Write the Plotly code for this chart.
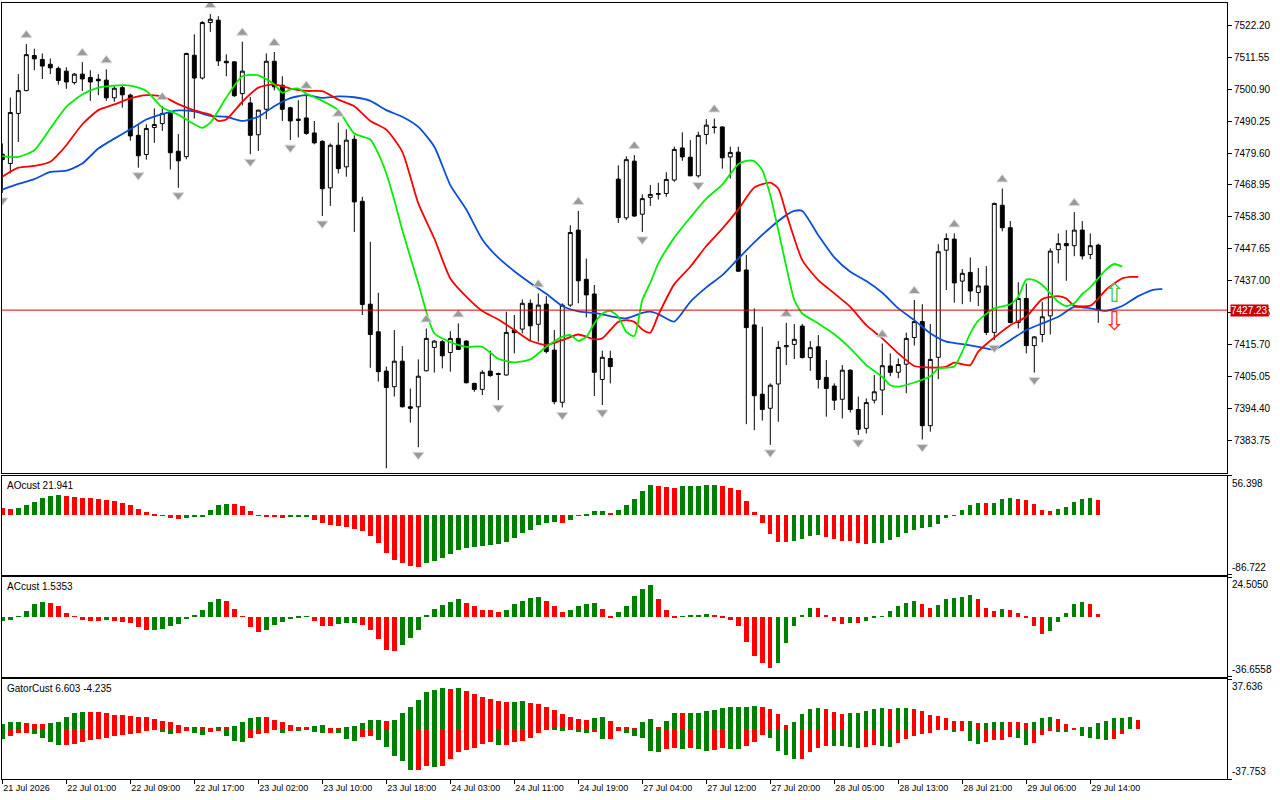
import plotly.graph_objects as go

# ---------------- data ----------------
tick_labels = ["21 Jul 2026", "22 Jul 01:00", "22 Jul 09:00", "22 Jul 17:00", "23 Jul 02:00",
               "23 Jul 10:00", "23 Jul 18:00", "24 Jul 03:00", "24 Jul 11:00", "24 Jul 19:00",
               "27 Jul 04:00", "27 Jul 12:00", "27 Jul 20:00", "28 Jul 05:00", "28 Jul 13:00",
               "28 Jul 21:00", "29 Jul 06:00", "29 Jul 14:00"]
tick_bars = list(range(0, 137, 8))

opens = [7479.2, 7476.1, 7492.8, 7500.4, 7512.1, 7510.8, 7509.2, 7507.8, 7506.9, 7503.1,
         7505.9, 7504.8, 7504.2, 7503.9, 7498.0, 7501.4, 7498.9, 7485.5, 7479.1, 7488.1,
         7489.4, 7492.8, 7480.2, 7478.4, 7512.2, 7504.6, 7523.1, 7523.9, 7510.2, 7510.0,
         7499.4, 7496.3, 7485.7, 7494.2, 7510.2, 7502.2, 7494.7, 7490.9, 7491.3, 7486.3,
         7483.5, 7468.0, 7482.2, 7475.0, 7484.2, 7463.5, 7429.2, 7420.0, 7406.9, 7401.7,
         7410.2, 7395.0, 7395.0, 7407.0, 7414.8, 7416.7, 7413.1, 7417.8, 7416.9, 7402.8,
         7400.8, 7406.9, 7406.1, 7405.6, 7420.6, 7420.9, 7429.5, 7422.5, 7429.2, 7413.9,
         7396.5, 7428.9, 7453.9, 7437.5, 7432.6, 7404.1, 7411.1, 7470.9, 7458.0, 7476.9,
         7459.2, 7464.8, 7465.8, 7466.1, 7470.6, 7481.3, 7478.2, 7472.0, 7485.8, 7488.3,
         7488.3, 7478.3, 7479.9, 7440.6, 7422.3, 7399.2, 7394.5, 7402.6, 7415.0, 7415.8,
         7421.9, 7411.4, 7415.0, 7404.8, 7401.9, 7397.5, 7407.2, 7394.1, 7387.8, 7397.2,
         7400.6, 7408.6, 7406.5, 7409.2, 7418.1, 7423.4, 7388.7, 7411.5, 7447.2, 7450.9,
         7436.9, 7439.8, 7433.1, 7435.3, 7419.8, 7462.2, 7454.7, 7423.1, 7431.1, 7415.4,
         7419.1, 7425.3, 7447.4, 7449.4, 7448.7, 7453.9, 7445.8, 7448.9]
highs = [7482.8, 7498.1, 7505.9, 7515.9, 7514.4, 7512.8, 7511.1, 7508.5, 7508.2, 7506.3,
         7509.9, 7507.2, 7505.9, 7507.5, 7501.9, 7501.9, 7499.4, 7488.9, 7489.2, 7494.5,
         7495.2, 7493.9, 7485.9, 7513.0, 7519.2, 7523.6, 7525.9, 7525.2, 7512.5, 7510.1,
         7516.7, 7498.3, 7494.0, 7512.8, 7513.3, 7505.2, 7495.0, 7497.2, 7499.0, 7490.3,
         7483.9, 7482.8, 7489.7, 7487.5, 7485.5, 7465.0, 7450.0, 7433.0, 7408.4, 7420.6,
         7415.2, 7401.1, 7410.8, 7421.1, 7417.2, 7417.2, 7420.2, 7422.8, 7417.2, 7403.0,
         7407.2, 7413.7, 7406.4, 7426.7, 7425.6, 7430.8, 7430.8, 7432.8, 7431.9, 7420.6,
         7429.5, 7455.5, 7460.3, 7444.4, 7435.6, 7413.7, 7413.7, 7475.5, 7478.5, 7478.9,
         7465.8, 7468.9, 7469.7, 7473.2, 7481.7, 7486.5, 7483.9, 7486.7, 7490.9, 7491.1,
         7488.5, 7481.7, 7481.7, 7445.6, 7427.8, 7421.7, 7402.8, 7416.9, 7423.0, 7422.6,
         7422.6, 7416.9, 7418.9, 7410.6, 7402.8, 7408.9, 7407.5, 7398.4, 7397.8, 7405.6,
         7416.1, 7412.8, 7411.1, 7419.7, 7430.6, 7429.2, 7422.6, 7449.2, 7452.8, 7452.8,
         7440.9, 7444.8, 7441.3, 7441.9, 7463.1, 7467.8, 7456.9, 7436.5, 7436.1, 7418.6,
         7430.0, 7447.8, 7452.8, 7453.9, 7459.9, 7456.9, 7452.8, 7449.4]
lows = [7466.3, 7472.8, 7483.3, 7500.2, 7507.2, 7504.3, 7505.9, 7502.4, 7501.0, 7502.4,
        7500.3, 7497.0, 7498.9, 7497.0, 7496.7, 7494.7, 7483.7, 7474.7, 7477.4, 7483.0,
        7487.0, 7474.1, 7468.0, 7477.5, 7491.1, 7504.1, 7520.0, 7508.6, 7505.2, 7498.3,
        7495.5, 7479.2, 7480.3, 7490.9, 7500.5, 7490.3, 7483.9, 7484.8, 7485.7, 7482.5,
        7458.6, 7462.0, 7472.8, 7471.7, 7453.3, 7425.6, 7408.0, 7403.4, 7374.5, 7398.4,
        7394.8, 7389.7, 7381.5, 7406.8, 7406.4, 7407.8, 7406.7, 7413.9, 7402.8, 7400.0,
        7398.9, 7405.0, 7397.2, 7405.4, 7412.8, 7419.5, 7416.7, 7416.7, 7412.8, 7395.8,
        7394.8, 7428.3, 7429.5, 7424.8, 7398.6, 7395.6, 7402.8, 7456.3, 7457.2, 7458.3,
        7453.3, 7462.0, 7464.1, 7465.0, 7470.0, 7477.0, 7471.9, 7471.4, 7482.5, 7486.1,
        7474.4, 7471.1, 7440.0, 7389.2, 7387.2, 7390.4, 7382.3, 7390.0, 7408.9, 7410.9,
        7411.1, 7407.0, 7401.1, 7391.7, 7393.9, 7391.1, 7393.1, 7385.6, 7386.1, 7396.1,
        7392.2, 7405.2, 7404.5, 7399.5, 7415.4, 7384.1, 7386.7, 7404.2, 7433.9, 7429.7,
        7429.2, 7430.0, 7428.6, 7418.9, 7417.2, 7453.5, 7422.8, 7421.1, 7412.8, 7406.4,
        7416.5, 7419.1, 7442.8, 7437.0, 7445.2, 7444.1, 7444.2, 7423.0]
closes = [7477.4, 7493.1, 7500.4, 7512.4, 7511.0, 7508.6, 7508.0, 7503.8, 7503.3, 7505.9,
          7504.3, 7503.3, 7503.7, 7498.0, 7501.2, 7499.0, 7485.3, 7478.7, 7487.8, 7489.1,
          7492.8, 7479.7, 7477.0, 7512.8, 7504.6, 7523.1, 7524.2, 7510.3, 7509.7, 7498.7,
          7506.9, 7485.5, 7493.9, 7510.2, 7501.7, 7494.2, 7490.3, 7490.5, 7486.1, 7483.0,
          7467.7, 7482.2, 7474.4, 7483.9, 7463.3, 7429.1, 7419.1, 7406.7, 7401.4, 7410.2,
          7395.0, 7394.5, 7405.2, 7417.8, 7416.9, 7412.0, 7417.8, 7414.1, 7403.0, 7400.8,
          7406.5, 7405.4, 7405.8, 7419.8, 7419.7, 7429.5, 7422.0, 7428.9, 7413.4, 7396.7,
          7428.9, 7453.1, 7437.0, 7432.3, 7406.5, 7411.5, 7408.4, 7458.1, 7477.4, 7458.6,
          7464.4, 7465.8, 7466.1, 7470.8, 7480.8, 7478.3, 7472.0, 7485.5, 7488.9, 7488.1,
          7478.0, 7479.8, 7440.2, 7421.4, 7398.7, 7394.1, 7402.2, 7414.8, 7415.4, 7417.5,
          7411.4, 7414.7, 7404.1, 7401.1, 7397.2, 7407.2, 7394.1, 7387.5, 7396.4, 7400.0,
          7408.7, 7406.5, 7409.1, 7417.8, 7423.4, 7388.7, 7410.8, 7446.7, 7451.1, 7436.3,
          7439.5, 7433.6, 7435.3, 7419.8, 7462.8, 7454.7, 7423.1, 7431.1, 7415.4, 7418.3,
          7425.0, 7446.9, 7449.4, 7448.7, 7453.9, 7445.3, 7448.7, 7427.23]

fractal_up_bars = [3, 10, 13, 20, 26, 30, 34, 38, 42, 53, 57, 67, 72, 79, 89, 98, 110, 114, 119, 125, 134]
fractal_down_bars = [0, 17, 22, 31, 36, 40, 48, 52, 62, 70, 75, 80, 87, 96, 107, 115, 124, 129]

# Alligator lines (bar index, price)
lips_bars = [0, 2, 4, 6, 8, 10, 12, 14, 16, 18, 20, 22, 24, 25, 26, 28, 30, 32, 34, 35, 36, 37, 38,
             40, 42, 44, 46, 47, 48, 49, 50, 52, 54, 56, 58, 60, 62, 64, 66, 68, 70, 71, 72, 73,
             74, 75, 76, 77, 78, 79, 80, 81, 82, 84, 86, 88, 90, 92, 93, 94, 95, 96, 97, 98, 99,
             100, 102, 104, 106, 108, 110, 111, 112, 114, 116, 117, 118, 119, 120, 121, 122, 124,
             126, 127, 128, 129, 130, 132, 133, 134, 135, 136, 138, 139, 140]
lips_vals = [7478.6, 7478.3, 7480.5, 7487.8, 7495.0, 7499.1, 7501.4, 7502.1, 7502.1, 7500.3,
             7494.8, 7492.4, 7489.2, 7488.0, 7489.7, 7498.1, 7505.2, 7505.5, 7502.5, 7499.7,
             7500.8, 7501.1, 7499.4, 7497.0, 7493.9, 7486.1, 7484.1, 7479.4, 7472.8, 7463.9,
             7453.9, 7436.1, 7419.5, 7416.6, 7415.0, 7415.0, 7411.0, 7409.8, 7410.8, 7415.0,
             7418.3, 7418.9, 7417.0, 7418.3, 7422.8, 7426.1, 7427.0, 7425.0, 7420.0, 7418.6,
             7430.6, 7436.3, 7442.8, 7451.4, 7458.1, 7464.4, 7469.1, 7475.9, 7477.0, 7476.9,
             7473.9, 7465.5, 7453.9, 7441.7, 7430.6, 7426.1, 7422.8, 7419.2, 7414.5, 7408.9,
             7405.0, 7402.2, 7401.7, 7403.1, 7405.2, 7407.8, 7408.0, 7408.4, 7413.4, 7419.5,
             7423.7, 7427.8, 7429.2, 7431.7, 7437.4, 7437.2, 7435.6, 7430.0, 7428.6, 7429.5,
             7432.6, 7434.8, 7440.8, 7442.6, 7441.7]
teeth_bars = [0, 2, 4, 6, 7, 8, 10, 12, 14, 16, 18, 20, 22, 24, 26, 27, 28, 30, 32, 34, 36, 38, 40,
              42, 44, 46, 48, 50, 52, 54, 56, 58, 60, 62, 64, 66, 68, 70, 72, 74, 75, 76, 77, 78,
              79, 80, 81, 82, 84, 86, 88, 90, 92, 94, 96, 97, 98, 100, 102, 104, 106, 108, 110,
              112, 114, 116, 118, 119, 120, 121, 122, 124, 126, 128, 130, 132, 133, 134, 136,
              137, 138, 140, 141, 142]
teeth_vals = [7471.7, 7474.7, 7475.3, 7476.7, 7479.2, 7482.2, 7489.2, 7493.9, 7495.8, 7497.8,
              7498.9, 7498.5, 7495.9, 7493.8, 7492.4, 7490.3, 7490.8, 7496.7, 7501.4, 7502.5,
              7501.1, 7500.3, 7500.2, 7497.4, 7495.2, 7490.3, 7487.4, 7480.0, 7462.8, 7451.1,
              7437.8, 7431.7, 7426.9, 7424.1, 7420.6, 7417.0, 7415.6, 7417.2, 7419.1, 7417.5,
              7417.8, 7420.6, 7423.3, 7423.9, 7423.3, 7420.8, 7419.7, 7425.6, 7435.9, 7441.7,
              7448.6, 7454.4, 7460.8, 7468.1, 7469.7, 7467.8, 7459.4, 7443.9, 7437.2, 7432.8,
              7428.3, 7422.2, 7417.8, 7412.8, 7408.6, 7408.1, 7408.4, 7409.7, 7409.2, 7408.9,
              7413.4, 7418.1, 7422.2, 7425.0, 7430.9, 7431.9, 7431.1, 7428.7, 7428.7, 7431.1,
              7434.1, 7437.8, 7438.3, 7438.3]
jaw_bars = [0, 2, 4, 6, 8, 10, 12, 14, 16, 18, 20, 22, 24, 26, 28, 30, 32, 34, 36, 38, 40, 42, 44,
            46, 48, 50, 52, 54, 56, 58, 60, 62, 64, 66, 68, 70, 72, 74, 76, 78, 80, 81, 82, 84,
            86, 88, 90, 92, 94, 96, 98, 99, 100, 102, 104, 106, 108, 110, 112, 114, 116, 118,
            120, 122, 124, 126, 128, 130, 132, 134, 136, 138, 140, 142, 144, 145]
jaw_vals = [7467.4, 7469.3, 7470.9, 7473.3, 7473.7, 7476.1, 7481.1, 7484.4, 7487.5, 7490.8,
            7492.6, 7493.8, 7493.5, 7492.0, 7491.7, 7490.3, 7491.7, 7495.2, 7497.9, 7498.9,
            7498.0, 7498.5, 7498.2, 7497.0, 7493.9, 7491.7, 7488.3, 7481.7, 7468.9, 7460.8,
            7450.8, 7444.7, 7440.2, 7436.3, 7432.7, 7428.6, 7426.8, 7426.3, 7425.2, 7424.5,
            7426.3, 7426.7, 7425.9, 7423.4, 7430.0, 7434.8, 7438.9, 7444.4, 7449.8, 7454.7,
            7458.9, 7460.3, 7460.3, 7452.2, 7444.8, 7440.0, 7436.9, 7433.0, 7427.8, 7423.9,
            7419.5, 7416.7, 7415.9, 7415.0, 7414.1, 7417.2, 7420.6, 7422.8, 7425.0, 7428.3,
            7427.8, 7427.0, 7428.6, 7431.9, 7434.1, 7434.2]

# signal arrows after the last bar
signal_bar = [139]
signal_up_price = [7432.2]
signal_down_price = [7422.9]

# Awesome oscillator (one value per bar)
ao_vals = [9.7, 9.3, 10.7, 14.6, 19.5, 25.3, 28.2, 29.2, 27.8, 26.3,
           25.3, 23.9, 22.9, 21.9, 20.9, 17.5, 14.6, 8.8, 4.9, 1.0,
           -1.0, -3.9, -5.8, -3.9, -2.4, -1.5, 7.8, 14.6, 16.6, 15.6,
           13.1, 5.8, -0.5, -1.9, -3.4, -3.9, -3.4, -2.9, -2.4, -6.8,
           -11.2, -14.6, -16.1, -18.0, -20.5, -22.4, -30.7, -40.9, -55.0, -64.3,
           -69.6, -74.0, -75.5, -69.6, -66.7, -62.3, -56.5, -50.6, -47.7, -46.3,
           -44.8, -43.3, -41.9, -39.0, -33.1, -25.8, -21.4, -14.6, -11.2, -9.7,
           -11.2, -6.8, -1.0, 1.9, 5.8, 6.3, 2.9, 7.3, 14.6, 23.4,
           34.1, 43.8, 42.4, 40.9, 39.4, 42.4, 42.5, 42.6, 43.8, 43.9,
           42.4, 39.4, 35.6, 20.5, 4.9, -11.2, -27.8, -39.0, -39.1, -37.5,
           -34.6, -30.7, -29.2, -32.1, -34.6, -37.5, -37.6, -40.4, -42.4, -40.9,
           -40.8, -36.0, -32.1, -25.8, -21.9, -18.5, -17.0, -12.7, -3.9, -1.0,
           7.3, 14.6, 17.5, 17.4, 17.6, 23.4, 24.8, 23.4, 21.9, 16.1,
           7.3, 5.8, 8.8, 11.7, 19.0, 23.4, 24.8, 21.941]
# Accelerator oscillator
ac_vals = [-2.3, -2.1, 0.4, 3.5, 7.6, 9.4, 8.8, 6.6, 2.1, 0.4,
           -2.1, -2.5, -2.6, -2.1, -2.5, -3.1, -3.7, -6.2, -8.2, -8.1,
           -7.2, -5.7, -4.5, -1.4, 1.2, 4.5, 9.0, 11.1, 9.6, 5.1,
           0.4, -6.2, -9.6, -8.2, -5.1, -3.3, -1.4, -0.2, 0.2, -2.7,
           -5.7, -5.9, -4.5, -3.7, -3.5, -5.3, -8.2, -13.7, -20.5, -21.3,
           -17.6, -13.1, -7.8, 1.2, 5.1, 7.0, 9.4, 10.7, 8.8, 6.4,
           4.5, 3.9, 2.7, 4.5, 7.6, 10.0, 11.3, 11.9, 10.0, 6.4,
           2.7, 3.9, 6.8, 8.2, 8.4, 5.1, -0.4, 2.7, 6.8, 13.1,
           17.4, 19.3, 10.7, 3.9, -0.4, 0.2, 0.6, 1.2, 1.8, 1.2,
           -1.0, -2.1, -5.7, -15.6, -23.8, -28.1, -31.2, -28.1, -16.4, -5.9,
           0.8, 5.7, 5.6, 1.4, -2.7, -4.5, -3.9, -4.1, -2.7, -0.6,
           0.1, 3.3, 6.4, 8.8, 10.0, 8.2, 5.7, 7.0, 10.7, 11.3,
           12.5, 13.7, 10.7, 5.7, 3.3, 5.1, 4.5, 2.1, -0.2, -5.7,
           -10.7, -8.8, -3.3, 2.1, 8.2, 9.4, 7.6, 1.5353]
# Gator oscillator (upper histogram shifted 5 bars, lower shifted 3 bars)
gator_up = [3.8, 4.8, 5.3, 4.3, 3.8, 3.3, 4.0, 5.3, 9.1, 11.6,
            12.9, 12.8, 12.4, 11.6, 10.6, 10.5, 9.6, 9.1, 8.6, 7.6,
            6.1, 4.8, 2.5, 0.8, 0.9, 0.7, 0.1, 1.5, 0.8, 1.8,
            5.0, 8.1, 9.1, 9.0, 6.8, 5.3, 3.0, 0.8, 0.7, 2.3,
            3.0, 0.5, 0.4, 1.5, 2.3, 4.5, 6.8, 6.9, 6.1, 6.8,
            11.6, 16.6, 21.9, 28.0, 29.5, 31.0, 30.3, 31.0, 28.7, 26.5,
            24.2, 22.7, 21.2, 20.4, 20.5, 21.2, 19.7, 18.9, 16.6, 14.4,
            11.3, 9.1, 7.6, 6.8, 8.3, 9.1, 6.1, 1.5, 0.8, 0.3,
            5.3, 7.6, 0.8, 6.1, 12.1, 12.0, 12.1, 12.2, 13.6, 14.4,
            15.9, 16.6, 16.7, 16.8, 17.4, 16.6, 15.1, 11.3, 3.0, 5.3,
            11.3, 15.1, 15.9, 15.1, 12.9, 11.3, 12.1, 12.2, 13.6, 15.1,
            15.9, 15.1, 15.9, 16.0, 15.1, 13.6, 10.6, 9.8, 8.3, 6.1,
            6.0, 6.1, 4.5, 4.6, 5.3, 5.4, 5.3, 5.2, 4.5, 5.3,
            8.3, 9.1, 7.6, 3.8, 0.2, 0.8, 0.9, 4.5, 6.1, 8.3,
            8.4, 9.1, 6.603]
gator_down = [-7.6, -5.8, -3.5, -3.3, -4.3, -6.6, -10.1, -12.6, -12.5, -11.8,
              -10.3, -8.8, -8.1, -7.1, -5.5, -5.0, -4.0, -3.0, -2.0, -0.8,
              -2.8, -4.3, -3.3, -2.0, -3.0, -5.0, -2.8, -2.0, -5.8, -9.1,
              -9.8, -6.8, -4.0, -3.5, -0.8, -3.5, -1.3, -2.0, -0.8, -2.5,
              -3.0, -2.9, -3.5, -7.6, -9.6, -6.1, -5.8, -8.3, -13.6, -20.2,
              -24.7, -31.0, -30.9, -28.0, -28.7, -28.0, -22.7, -17.9, -15.9, -14.4,
              -11.3, -10.3, -12.1, -12.0, -9.8, -9.1, -6.8, -3.0, -0.8, -0.9,
              -1.5, -0.8, -2.3, -3.0, -2.3, -7.6, -7.5, -2.0, -3.0, -5.3,
              -6.8, -16.6, -17.4, -15.1, -14.4, -15.1, -14.4, -15.1, -16.6, -15.9,
              -14.4, -15.1, -15.2, -12.9, -9.8, -4.5, -6.8, -16.6, -19.7, -22.7,
              -22.6, -17.4, -14.4, -12.9, -13.0, -13.1, -13.6, -14.4, -13.6, -12.1,
              -12.9, -13.6, -10.6, -7.6, -5.3, -3.8, -3.0, -0.8, -0.7, -2.3,
              -1.5, -9.1, -11.3, -9.8, -8.3, -8.2, -6.1, -6.8, -12.1, -10.6,
              -4.5, -1.5, -2.3, -2.4, -0.5, -5.3, -6.8, -7.6, -8.3, -7.6,
              -4.235]

AO_MIN, AO_MAX = -86.722, 56.398
AC_MIN, AC_MAX = -36.6558, 24.5050
GT_MIN, GT_MAX = -37.753, 37.636
PRICE_TICKS = [7383.75, 7394.40, 7405.05, 7415.70, 7426.35, 7437.00, 7447.65,
               7458.30, 7468.95, 7479.60, 7490.25, 7500.90, 7511.55, 7522.20]

# ---------------- styling ----------------
GREEN = "#008000"
RED = "#ff0000"
FONT = "Liberation Sans"
FS = 9
FSY = 10


def trend_colors(vals, first, use_abs=False):
    out = [first]
    for i in range(1, len(vals)):
        a, b = (abs(vals[i]), abs(vals[i - 1])) if use_abs else (vals[i], vals[i - 1])
        out.append(GREEN if a > b else RED)
    return out


bars = list(range(len(opens)))
last_close = closes[-1]

fig = go.Figure()

fig.add_trace(go.Candlestick(
    x=bars, open=opens, high=highs, low=lows, close=closes,
    increasing=dict(line=dict(color="black", width=1), fillcolor="white"),
    decreasing=dict(line=dict(color="black", width=1), fillcolor="black"),
    whiskerwidth=0, showlegend=False, xaxis="x", yaxis="y"))

fig.add_trace(go.Scatter(x=jaw_bars, y=jaw_vals, mode="lines",
                         line=dict(color="#0a4fd6", width=1.8, shape="spline", smoothing=0.6),
                         xaxis="x", yaxis="y", showlegend=False))
fig.add_trace(go.Scatter(x=teeth_bars, y=teeth_vals, mode="lines",
                         line=dict(color="#ff0000", width=1.8, shape="spline", smoothing=0.6),
                         xaxis="x", yaxis="y", showlegend=False))
fig.add_trace(go.Scatter(x=lips_bars, y=lips_vals, mode="lines",
                         line=dict(color="#00ee00", width=1.8, shape="spline", smoothing=0.6),
                         xaxis="x", yaxis="y", showlegend=False))

fig.add_trace(go.Scatter(
    x=fractal_up_bars, y=[highs[i] + 3.0 for i in fractal_up_bars], mode="markers",
    marker=dict(symbol="triangle-up", size=10, color="#9a9a9a", line=dict(color="#dcdcdc", width=1)),
    xaxis="x", yaxis="y", showlegend=False))
fig.add_trace(go.Scatter(
    x=fractal_down_bars, y=[lows[i] - 2.5 for i in fractal_down_bars], mode="markers",
    marker=dict(symbol="triangle-down", size=10, color="#9a9a9a", line=dict(color="#dcdcdc", width=1)),
    xaxis="x", yaxis="y", showlegend=False))

fig.add_trace(go.Scatter(x=signal_bar, y=signal_up_price, mode="text", text=["\u21e7"],
                         textfont=dict(size=26, color="#3cc83c", family="DejaVu Sans"),
                         xaxis="x", yaxis="y", showlegend=False))
fig.add_trace(go.Scatter(x=signal_bar, y=signal_down_price, mode="text", text=["\u21e9"],
                         textfont=dict(size=26, color="#ff2a2a", family="DejaVu Sans"),
                         xaxis="x", yaxis="y", showlegend=False))

fig.add_trace(go.Bar(x=bars, y=ao_vals, marker=dict(color=trend_colors(ao_vals, RED), line=dict(width=0)),
                     width=0.55, xaxis="x2", yaxis="y2", showlegend=False))
fig.add_trace(go.Bar(x=bars, y=ac_vals, marker=dict(color=trend_colors(ac_vals, GREEN), line=dict(width=0)),
                     width=0.55, xaxis="x3", yaxis="y3", showlegend=False))
fig.add_trace(go.Bar(x=list(range(len(gator_up))), y=gator_up,
                     marker=dict(color=trend_colors(gator_up, GREEN), line=dict(width=0)),
                     width=0.55, xaxis="x4", yaxis="y4", showlegend=False))
fig.add_trace(go.Bar(x=list(range(len(gator_down))), y=gator_down,
                     marker=dict(color=trend_colors(gator_down, GREEN, use_abs=True), line=dict(width=0)),
                     width=0.55, xaxis="x4", yaxis="y4", showlegend=False))

XR = [-0.04, 153.09]
ax_common = dict(showline=True, mirror=True, linecolor="black", linewidth=1, showgrid=False,
                 zeroline=False, fixedrange=True)
xbase = dict(ax_common, range=XR, showticklabels=False, ticks="")

doms = {"y": [0.3947, 1.0], "y2": [0.2633, 0.3909], "y3": [0.1318, 0.2599], "y4": [0.0, 0.1285]}

fig.update_layout(
    width=1280, height=800,
    margin=dict(l=2, r=53, t=3, b=21),
    paper_bgcolor="white", plot_bgcolor="white",
    font=dict(family=FONT, size=FS, color="black"),
    barmode="overlay", bargap=0,
    xaxis=dict(xbase, anchor="y", rangeslider=dict(visible=False)),
    xaxis2=dict(xbase, anchor="y2", matches="x"),
    xaxis3=dict(xbase, anchor="y3", matches="x"),
    xaxis4=dict(ax_common, range=XR, anchor="y4", matches="x", tickmode="array", tickvals=tick_bars,
                ticktext=tick_labels, ticks="outside", ticklen=4, tickcolor="black",
                ticklabelposition="outside right", tickfont=dict(family=FONT, size=FS)),
    yaxis=dict(ax_common, domain=doms["y"], anchor="x", side="right", range=[7373.02, 7529.62],
               tickmode="array", tickvals=PRICE_TICKS, tickformat=".2f", ticks="outside", ticklen=4,
               tickcolor="black", tickfont=dict(family=FONT, size=FSY)),
    yaxis2=dict(ax_common, domain=doms["y2"], anchor="x2", side="right", range=[AO_MIN, AO_MAX],
                tickmode="array", tickvals=[AO_MIN, AO_MAX], ticks="outside", ticklen=4,
                tickcolor="black", showticklabels=False),
    yaxis3=dict(ax_common, domain=doms["y3"], anchor="x3", side="right", range=[AC_MIN, AC_MAX],
                tickmode="array", tickvals=[AC_MIN, AC_MAX], ticks="outside", ticklen=4,
                tickcolor="black", showticklabels=False),
    yaxis4=dict(ax_common, domain=doms["y4"], anchor="x4", side="right", range=[GT_MIN, GT_MAX],
                tickmode="array", tickvals=[GT_MIN, GT_MAX], ticks="outside", ticklen=4,
                tickcolor="black", showticklabels=False),
)

# current price line and label
fig.add_shape(type="line", xref="x domain", yref="y", x0=0, x1=1, y0=last_close, y1=last_close,
              line=dict(color="#e00000", width=1))
fig.add_annotation(xref="paper", yref="y", x=1, y=last_close, xanchor="left", yanchor="middle",
                   xshift=3, text=f"{last_close:.2f}", showarrow=False, bgcolor="#cc0000",
                   font=dict(color="white", size=FSY, family=FONT), borderpad=0)

# indicator scale labels
for yref, lo, hi, fmt in [("y2", AO_MIN, AO_MAX, "{:.3f}"), ("y3", AC_MIN, AC_MAX, "{:.4f}"),
                          ("y4", GT_MIN, GT_MAX, "{:.3f}")]:
    fig.add_annotation(xref="paper", yref=yref, x=1, y=hi, xanchor="left", yanchor="top", xshift=3,
                       text=fmt.format(hi), showarrow=False, font=dict(size=FSY, family=FONT))
    fig.add_annotation(xref="paper", yref=yref, x=1, y=lo, xanchor="left", yanchor="bottom", xshift=3,
                       text=fmt.format(lo), showarrow=False, font=dict(size=FSY, family=FONT))

# indicator titles
titles = [("y2", f"AOcust {ao_vals[-1]:.3f}"), ("y3", f"ACcust {ac_vals[-1]:.4f}"),
          ("y4", f"GatorCust {gator_up[-1]:.3f} {gator_down[-1]:.3f}")]
for yref, txt in titles:
    fig.add_annotation(xref="paper", yref=f"{yref} domain", x=0, y=1, xanchor="left", yanchor="top",
                       xshift=3, yshift=-2, text=txt, showarrow=False, font=dict(size=FSY, family=FONT))

fig.write_html("out.html",
               config={"displayModeBar": False},
               post_script="document.body.style.margin='0';document.body.style.padding='0';"
                           "document.body.style.overflow='hidden';")
